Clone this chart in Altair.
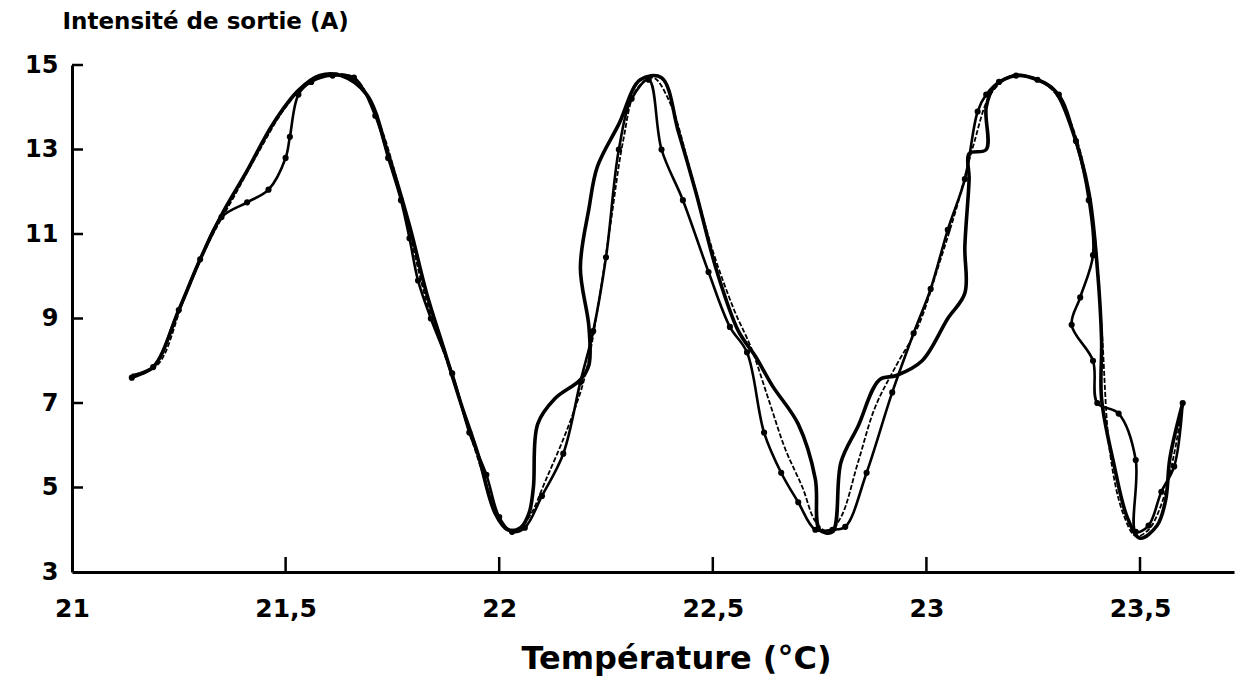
import altair as alt
import pandas as pd

# --- data ---
thick_t = [21.14, 21.19, 21.25, 21.30, 21.35, 21.41, 21.47, 21.53, 21.58, 21.63, 21.69, 21.74, 21.79,
           21.83, 21.87, 21.91, 21.95, 21.99, 22.02, 22.05, 22.07, 22.08, 22.09, 22.13, 22.19, 22.21,
           22.21, 22.19, 22.21, 22.23, 22.28, 22.33, 22.38, 22.42, 22.46, 22.51, 22.56, 22.60, 22.64,
           22.70, 22.74, 22.75, 22.78, 22.80, 22.84, 22.89, 22.93, 22.99, 23.05, 23.09, 23.09, 23.10,
           23.10, 23.14, 23.14, 23.16, 23.21, 23.26, 23.30, 23.34, 23.38, 23.40, 23.41, 23.41, 23.44,
           23.47, 23.50, 23.54, 23.56, 23.57, 23.60]
thick_i = [7.65, 7.85, 9.2, 10.4, 11.45, 12.5, 13.6, 14.4, 14.75, 14.75, 14.3, 12.9, 11.2,
           9.6, 8.3, 7.0, 5.8, 4.4, 4.0, 4.05, 4.4, 5.0, 6.5, 7.1, 7.55, 7.9,
           8.8, 10.2, 11.6, 12.6, 13.6, 14.65, 14.7, 13.4, 12.0, 10.1, 8.7, 8.1, 7.4,
           6.5, 5.2, 4.0, 3.95, 5.6, 6.45, 7.55, 7.65, 8.0, 9.0, 9.6, 10.7, 12.3,
           12.9, 13.0, 14.0, 14.5, 14.75, 14.65, 14.4, 13.5, 12.0, 10.2, 8.5, 7.1, 5.5,
           4.3, 3.8, 4.1, 4.7, 5.7, 7.0]

dots_t = [21.14, 21.19, 21.25, 21.30, 21.35, 21.41, 21.46, 21.50, 21.51, 21.53, 21.56, 21.61, 21.66,
          21.71, 21.74, 21.77, 21.79, 21.81, 21.84, 21.89, 21.93, 21.97, 22.00, 22.03, 22.06, 22.10,
          22.15, 22.19, 22.22, 22.25, 22.28, 22.31, 22.35, 22.38, 22.43, 22.49, 22.54, 22.58, 22.62,
          22.66, 22.70, 22.74, 22.78, 22.81, 22.86, 22.92, 22.97, 23.01, 23.05, 23.09, 23.12, 23.14,
          23.17, 23.21, 23.26, 23.31, 23.35, 23.38, 23.39, 23.36, 23.34, 23.39, 23.40, 23.45, 23.49,
          23.49, 23.52, 23.55, 23.58, 23.60]
dots_i = [7.6, 7.85, 9.2, 10.4, 11.4, 11.75, 12.05, 12.8, 13.3, 14.3, 14.6, 14.75, 14.7,
          13.8, 12.8, 11.8, 10.9, 9.9, 9.0, 7.7, 6.3, 5.3, 4.3, 3.95, 4.05, 4.8,
          5.8, 7.5, 8.7, 10.45, 13.0, 14.2, 14.65, 13.0, 11.8, 10.1, 8.8, 8.2, 6.3,
          5.35, 4.65, 4.0, 4.0, 4.07, 5.35, 7.25, 8.65, 9.7, 11.1, 12.3, 13.9, 14.3,
          14.6, 14.75, 14.65, 14.3, 13.2, 11.8, 10.5, 9.5, 8.85, 8.0, 7.0, 6.75, 5.65,
          3.95, 4.1, 4.9, 5.5, 7.0]

thin_t = [21.14, 21.20, 21.26, 21.32, 21.38, 21.44, 21.50, 21.56, 21.62, 21.67, 21.72, 21.76, 21.80,
          21.83, 21.86, 21.90, 21.94, 21.98, 22.01, 22.04, 22.07, 22.11, 22.16, 22.20, 22.23, 22.26,
          22.29, 22.32, 22.36, 22.40, 22.45, 22.50, 22.55, 22.59, 22.63, 22.67, 22.71, 22.74, 22.77,
          22.80, 22.84, 22.88, 22.93, 22.98, 23.03, 23.07, 23.11, 23.15, 23.20, 23.25, 23.30, 23.35,
          23.39, 23.41, 23.43, 23.46, 23.49, 23.52, 23.55, 23.58, 23.60]
thin_i = [7.65, 7.9, 9.4, 10.8, 11.9, 13.0, 14.0, 14.65, 14.8, 14.6, 13.6, 12.3, 10.6,
          9.4, 8.5, 7.3, 6.0, 4.8, 4.1, 4.0, 4.3, 5.2, 6.4, 7.6, 9.2, 11.2,
          13.2, 14.4, 14.7, 14.1, 12.4, 10.6, 9.2, 8.3, 7.1, 5.9, 5.0, 4.2, 3.95,
          4.3, 5.6, 6.9, 7.9, 8.8, 10.3, 11.6, 13.1, 14.3, 14.75, 14.7, 14.35, 13.3,
          11.3, 8.8, 5.8, 4.4, 3.85, 4.0, 4.6, 5.8, 7.0]

x_ticks = [21, 21.5, 22, 22.5, 23, 23.5]
y_ticks = [3, 5, 7, 9, 11, 13, 15]
x_inner_ticks = [21.5, 22, 22.5, 23, 23.5]
y_inner_ticks = [5, 7, 9, 11, 13, 15]

W, H = 1162, 507
FONT = "DejaVu Sans"


def frame(ts, vals):
    return pd.DataFrame({"t": ts, "i": vals, "o": list(range(len(ts)))})


xscale = alt.Scale(domain=[21, 23.72], nice=False, zero=False)
yscale = alt.Scale(domain=[3, 15], nice=False, zero=False)

x_enc = alt.X(
    "t:Q", scale=xscale,
    axis=alt.Axis(
        values=x_ticks, ticks=False, grid=False, domainColor="black", domainWidth=3,
        labelExpr="replace(format(datum.value, '.1~f'), '.', ',')",
        labelFont=FONT, labelFontWeight="bold", labelFontSize=25, labelColor="black",
        labelPadding=24, labelFlush=False,
        title="Température (°C)", titleFont=FONT, titleFontWeight="bold", titleFontSize=32,
        titleColor="black", titleX=604, titleY=96, titleAlign="center",
        titleBaseline="alphabetic",
    ),
)
y_enc = alt.Y(
    "i:Q", scale=yscale,
    axis=alt.Axis(
        values=y_ticks, ticks=False, grid=False, domainColor="black", domainWidth=3,
        labelFont=FONT, labelFontWeight="bold", labelFontSize=24, labelColor="black",
        labelPadding=14, labelFlush=False,
        title="Intensité de sortie (A)", titleFont=FONT, titleFontWeight="bold",
        titleFontSize=23, titleColor="black", titleAngle=0, titleAlign="left",
        titleBaseline="alphabetic", titleX=-10, titleY=-37,
    ),
)

thick = alt.Chart(frame(thick_t, thick_i)).mark_line(
    interpolate="catmull-rom", color="black", strokeWidth=3.6
).encode(x=x_enc, y=y_enc, order="o:Q")

dots_line = alt.Chart(frame(dots_t, dots_i)).mark_line(
    interpolate="catmull-rom", color="black", strokeWidth=2.6
).encode(x=alt.X("t:Q", scale=xscale), y=alt.Y("i:Q", scale=yscale), order="o:Q")

dots_pts = alt.Chart(frame(dots_t, dots_i)).mark_circle(
    color="black", size=38, opacity=1
).encode(x=alt.X("t:Q", scale=xscale), y=alt.Y("i:Q", scale=yscale))

thin = alt.Chart(frame(thin_t, thin_i)).mark_line(
    interpolate="catmull-rom", color="black", strokeWidth=1.8, strokeDash=[5, 2]
).encode(x=alt.X("t:Q", scale=xscale), y=alt.Y("i:Q", scale=yscale), order="o:Q")

xt = alt.Chart(pd.DataFrame({"t": x_inner_ticks})).mark_rule(
    color="black", strokeWidth=2.5
).encode(x=alt.X("t:Q", scale=xscale), y=alt.value(H), y2=alt.value(H - 15))

yt = alt.Chart(pd.DataFrame({"i": y_inner_ticks})).mark_rule(
    color="black", strokeWidth=2.5
).encode(y=alt.Y("i:Q", scale=yscale), x=alt.value(0), x2=alt.value(11))

chart = alt.layer(thick, thin, dots_line, dots_pts, xt, yt).properties(
    width=W, height=H,
    autosize=alt.AutoSizeParams(type="none"),
    padding={"left": 64, "top": 57, "right": 4, "bottom": 110},
    background="white",
).configure_view(stroke=None)

chart.save("out.html", embed_options={"renderer": "svg", "actions": False})
